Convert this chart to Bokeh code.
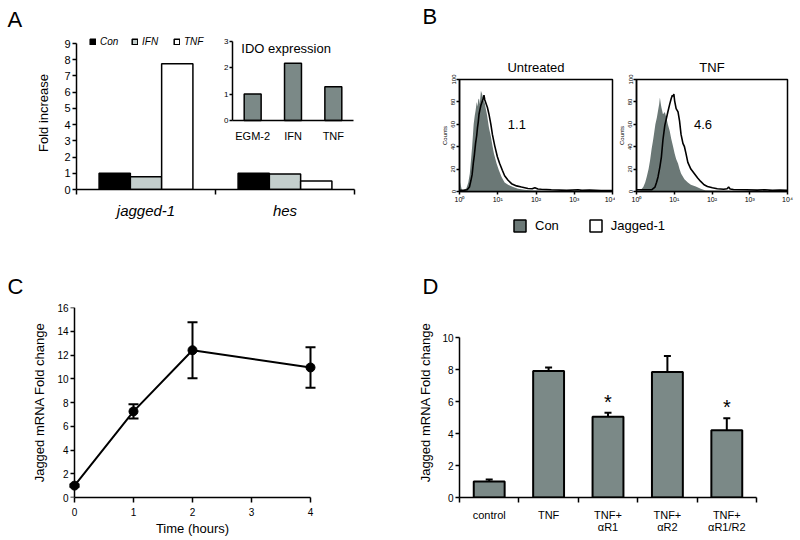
import numpy as np
from bokeh.plotting import figure
from bokeh.layouts import row, column
from bokeh.models import (Range1d, LinearAxis, FixedTicker, Legend, LegendItem, Label, Title,
                          ColumnDataSource, Whisker, TeeHead)
from bokeh.core.properties import value
from bokeh.embed import file_html
from bokeh.resources import INLINE

FONT = "Liberation Sans"

# ---------------- data ----------------
# Panel A
a_groups = ["jagged-1", "hes"]
a_series = ["Con", "IFN", "TNF"]
a_con = [1.0, 1.0]
a_ifn = [0.78, 0.95]
a_tnf = [7.75, 0.53]
a_yticks = [0, 1, 2, 3, 4, 5, 6, 7, 8, 9]
ido_labels = ["EGM-2", "IFN", "TNF"]
ido_values = [1.0, 2.17, 1.28]
ido_yticks = [0, 1, 2, 3]

# Panel B (log10 fluorescence, counts)
b_decades = [0, 1, 2, 3, 4]
b_decade_labels = ["10\u2070", "10\u00b9", "10\u00b2", "10\u00b3", "10\u2074"]
b_count_ticks = [0, 20, 40, 60, 80, 100]
b_titles = ["Untreated", "TNF"]
b_ratios = ["1.1", "4.6"]
b_legend = ["Con", "Jagged-1"]
unt_con_fl = [0.00, 0.03, 0.06, 0.10, 0.18, 0.23, 0.27, 0.30, 0.33, 0.37, 0.40, 0.42, 0.45, 0.47,
              0.49, 0.51, 0.53, 0.56, 0.59, 0.61, 0.63, 0.66, 0.68, 0.71, 0.73, 0.77, 0.82, 0.86,
              0.90, 0.97, 1.03, 1.10, 1.18, 1.27, 1.40, 1.53, 1.70, 1.90, 2.20, 2.60, 3.00, 3.50, 4.00]
unt_con_counts = [10, 6, 1.5, 1, 3, 8, 16, 28, 40, 60, 68, 72, 80, 76, 82, 83, 78, 90, 87, 84, 81,
                  79, 75, 70, 66, 57, 49, 41, 34, 25, 19, 13, 8, 6, 4, 2.4, 1.5, 1, 0.6, 0.5, 0.4,
                  0.3, 0.2]
unt_jag_fl = [0.00, 0.10, 0.20, 0.26, 0.30, 0.33, 0.36, 0.39, 0.42, 0.45, 0.47, 0.49, 0.51, 0.54,
              0.56, 0.58, 0.60, 0.62, 0.64, 0.66, 0.68, 0.70, 0.73, 0.77, 0.82, 0.86, 0.92, 0.99,
              1.05, 1.12, 1.18, 1.27, 1.36, 1.49, 1.62, 1.79, 1.90, 1.97, 2.05, 2.14, 2.40, 2.80,
              3.10, 3.20, 3.40, 3.70, 4.00]
unt_jag_counts = [1, 1, 1.5, 4, 10, 15, 25, 33, 43, 50, 57, 62, 69, 74, 77, 79, 81, 83, 86, 82, 80,
                  78, 75, 69, 60, 51, 41, 31, 25, 19, 14, 10, 7, 5, 4, 2.7, 2.5, 3.3, 2.2, 2, 1.5,
                  1, 1.5, 1, 1.2, 0.8, 0.8]
tnf_con_fl = [0.00, 0.10, 0.18, 0.23, 0.27, 0.32, 0.36, 0.40, 0.44, 0.47, 0.50, 0.54, 0.57, 0.60,
              0.62, 0.64, 0.66, 0.68, 0.70, 0.73, 0.75, 0.79, 0.83, 0.88, 0.92, 0.97, 1.01, 1.05,
              1.10, 1.14, 1.18, 1.27, 1.36, 1.44, 1.57, 1.70, 1.83, 2.00, 2.50, 3.00, 4.00]
tnf_con_counts = [0.5, 1, 4, 8, 13, 20, 28, 38, 46, 53, 60, 66, 72, 78, 84, 79, 75, 72, 69, 70, 71,
                  66, 60, 54, 47, 40, 34, 29, 25, 20, 16, 11, 8, 6, 4.5, 2.4, 1, 0.6, 0.4, 0.3, 0.2]
tnf_jag_fl = [0.00, 0.20, 0.40, 0.49, 0.53, 0.57, 0.62, 0.66, 0.70, 0.75, 0.79, 0.83, 0.88, 0.92,
              0.95, 0.97, 0.99, 1.01, 1.05, 1.10, 1.14, 1.18, 1.23, 1.27, 1.31, 1.36, 1.44, 1.53,
              1.62, 1.70, 1.79, 1.88, 2.01, 2.14, 2.31, 2.40, 2.44, 2.48, 2.57, 2.90, 3.20, 3.40,
              3.60, 3.80, 4.00]
tnf_jag_counts = [1.5, 1.5, 1.5, 4, 8, 13, 22, 31, 46, 59, 65, 71, 78, 83, 86, 85, 87, 81, 74, 71,
                  63, 51, 43, 40, 34, 26, 20, 16, 12, 9, 6, 4.5, 3.3, 2.4, 2, 2.5, 4, 2.2, 1.8, 1.5,
                  1.2, 1.6, 1, 1.3, 1]

# Panel C
c_time = [0, 1, 2, 4]
c_fold = [1.0, 7.25, 12.4, 10.95]
c_err = [0.1, 0.6, 2.35, 1.7]
c_xticks = [0, 1, 2, 3, 4]
c_yticks = [0, 2, 4, 6, 8, 10, 12, 14, 16]

# Panel D
d_labels = ["control", "TNF", "TNF+\n\u03b1R1", "TNF+\n\u03b1R2", "TNF+\n\u03b1R1/R2"]
d_fold = [1.0, 7.9, 5.05, 7.85, 4.2]
d_err = [0.12, 0.22, 0.25, 1.0, 0.75]
d_sig = [False, False, True, False, True]
d_yticks = [0, 2, 4, 6, 8, 10]

BLACK_BAR = "#000000"
IFN_GRAY = "#c3cecc"
BAR_GRAY = "#7b8987"
HIST_GRAY = "#6b7876"


def span(lo_px, hi_px, px_a, val_a, px_b, val_b):
    k = (val_b - val_a) / (px_b - px_a)
    return val_a + (lo_px - px_a) * k, val_a + (hi_px - px_a) * k


def base_fig(w, h, xr, yr, left, right, top, bottom):
    p = figure(width=w, height=h, x_range=xr, y_range=yr, output_backend="svg",
               toolbar_location=None, min_border_left=left, min_border_right=right,
               min_border_top=top, min_border_bottom=bottom)
    p.outline_line_color = None
    p.xgrid.visible = False
    p.ygrid.visible = False
    p.background_fill_color = "white"
    p.border_fill_color = "white"
    return p


def style_axis(ax, size="10px", tick_out=4, standoff=2):
    ax.axis_line_color = "black"
    ax.axis_line_width = 1.5
    ax.major_tick_line_color = "black"
    ax.major_tick_line_width = 1.5
    ax.major_tick_out = tick_out
    ax.major_tick_in = 0
    ax.minor_tick_line_color = None
    ax.major_label_text_font = FONT
    ax.major_label_text_font_size = size
    ax.major_label_text_color = "black"
    ax.major_label_standoff = standoff
    ax.axis_label_text_font = FONT
    ax.axis_label_text_font_style = "normal"
    ax.axis_label_text_color = "black"


def boundary_ticks(ax):
    ax.minor_tick_line_color = "black"
    ax.minor_tick_line_width = 1.5
    ax.minor_tick_out = 5
    ax.minor_tick_in = 0
    ax.major_tick_out = 0


def top_title(p, text, size, align, offset, standoff):
    p.add_layout(Title(text=text, align=align, offset=offset, standoff=standoff,
                       text_font=FONT, text_font_size=size, text_font_style="normal",
                       text_color="black"), "above")


def spacer(p, px):
    # a one-pixel white title that only reserves vertical room in the "above" panel
    p.add_layout(Title(text="x", standoff=max(px - 3, 0), text_font=FONT,
                       text_font_size="1px", text_color="white"), "above")


# ---------------- Panel A ----------------
pA = base_fig(400, 270, Range1d(0, len(a_groups)), Range1d(*span(189, 36, 189, 0, 43, 9)),
              76, 46, 36, 81)
gx = np.arange(len(a_groups)) + 0.5
bw = 0.225
a_colors = [BLACK_BAR, IFN_GRAY, "white"]
a_rend = []
for k, (vals, col) in enumerate(zip([a_con, a_ifn, a_tnf], a_colors)):
    r = pA.vbar(x=gx + (k - 1) * bw, top=vals, width=bw, bottom=0, fill_color=col,
                line_color="black", line_width=1.5)
    a_rend.append(r)

ya = pA.yaxis[0]
style_axis(ya, "11px", 4, 2)
ya.ticker = FixedTicker(ticks=a_yticks)
ya.bounds = (a_yticks[0], a_yticks[-1])
ya.axis_label = "Fold increase"
ya.axis_label_text_font_size = "13px"
ya.axis_label_standoff = 10

xa = pA.xaxis[0]
style_axis(xa, "15px", 0, 7)
xa.ticker = FixedTicker(ticks=list(gx), minor_ticks=list(range(len(a_groups) + 1)))
xa.major_label_overrides = {float(x): g for x, g in zip(gx, a_groups)}
xa.major_label_text_font_style = "italic"
boundary_ticks(xa)

legA = Legend(items=[LegendItem(label=s, renderers=[r]) for s, r in zip(a_series, a_rend)],
              orientation="horizontal", location=(13, 142), glyph_width=7, glyph_height=7,
              label_height=10, label_standoff=4, spacing=11, padding=0, margin=0,
              border_line_color=None, background_fill_alpha=0,
              label_text_font=FONT, label_text_font_size="10px",
              label_text_font_style="italic", label_text_color="black")
pA.add_layout(legA)

# inset: IDO expression
pA.extra_x_ranges = {"ido_x": Range1d(*span(76, 354, 232, 0, 353, len(ido_labels)))}
pA.extra_y_ranges = {"ido_y": Range1d(*span(189, 36, 120, 0, 40.7, ido_yticks[-1]))}
ix = np.arange(len(ido_labels)) + 0.5
pA.vbar(x=ix, top=ido_values, width=0.42, bottom=0, x_range_name="ido_x",
        y_range_name="ido_y", fill_color=BAR_GRAY, line_color="black", line_width=1.5)
iya = LinearAxis(x_range_name="ido_x", y_range_name="ido_y", fixed_location=0)
style_axis(iya, "8px", 3, 1)
iya.ticker = FixedTicker(ticks=ido_yticks)
iya.bounds = (ido_yticks[0], ido_yticks[-1])
pA.add_layout(iya, "left")
ixa = LinearAxis(x_range_name="ido_x", y_range_name="ido_y", fixed_location=0)
style_axis(ixa, "11px", 0, 9)
ixa.ticker = FixedTicker(ticks=list(ix), minor_ticks=[])
ixa.major_label_overrides = {float(x): g for x, g in zip(ix, ido_labels)}
ixa.bounds = (0, len(ido_labels))
pA.add_layout(ixa, "below")
pA.add_layout(Label(x=0.22, y=2.72, x_range_name="ido_x", y_range_name="ido_y",
                    text="IDO expression", text_font=FONT, text_font_size="13px",
                    text_baseline="middle", text_align="left", text_color="black"))
spacer(pA, 5)
top_title(pA, "A", "22px", "left", -69, 0)


# ---------------- Panel B ----------------
def hist_fig(w, left, right, con_x, con_y, jag_x, jag_y, ratio, ratio_x):
    p = base_fig(w, 207, Range1d(b_decades[0], b_decades[-1]),
                 Range1d(b_count_ticks[0], b_count_ticks[-1]), left, right, 79, 16)
    p.outline_line_color = "black"
    p.outline_line_width = 1.5
    p.varea(x=con_x, y1=0, y2=con_y, fill_color=HIST_GRAY)
    p.line(x=jag_x, y=jag_y, line_color="black", line_width=1.6)
    yb = p.yaxis[0]
    style_axis(yb, "6px", 3, 1)
    yb.ticker = FixedTicker(ticks=b_count_ticks)
    yb.major_label_orientation = "vertical"
    yb.axis_label = "Counts"
    yb.axis_label_text_font_size = "6px"
    yb.axis_label_standoff = 1
    xb = p.xaxis[0]
    style_axis(xb, "7px", 3, 1)
    xb.ticker = FixedTicker(ticks=b_decades)
    xb.major_label_overrides = {d: l for d, l in zip(b_decades, b_decade_labels)}
    p.add_layout(Label(x=ratio_x, y=60, text=ratio, text_font=FONT, text_font_size="13px",
                       text_align="center", text_baseline="middle", text_color="black"))
    return p


pB1 = hist_fig(215, 59, 3, unt_con_fl, unt_con_counts, unt_jag_fl, unt_jag_counts,
               b_ratios[0], 1.5)
pB2 = hist_fig(185, 18, 13, tnf_con_fl, tnf_con_counts, tnf_jag_fl, tnf_jag_counts,
               b_ratios[1], 1.76)
top_title(pB1, b_titles[0], "13px", "center", 0, 10)
spacer(pB1, 24)
top_title(pB1, "B", "22px", "left", -37, 0)
top_title(pB2, b_titles[1], "13px", "center", -8, 10)

pL = figure(width=400, height=63, x_range=Range1d(0, 1), y_range=Range1d(0, 1),
            output_backend="svg", toolbar_location=None, min_border=0,
            x_axis_location=None, y_axis_location=None)
pL.outline_line_color = None
pL.xgrid.visible = False
pL.ygrid.visible = False
key_src = ColumnDataSource(dict(x=[0.5], top=[np.nan]))
rl1 = pL.vbar(x="x", top="top", width=0.1, source=key_src, fill_color=HIST_GRAY,
              line_color="black", line_width=1.5)
rl2 = pL.vbar(x="x", top="top", width=0.1, source=key_src, fill_color="white",
              line_color="black", line_width=1.5)
legB = Legend(items=[LegendItem(label=b_legend[0], renderers=[rl1]),
                     LegendItem(label=b_legend[1], renderers=[rl2])],
              orientation="horizontal", location=(112, 37), glyph_width=15, glyph_height=15,
              label_height=15, label_standoff=8, spacing=29, padding=0, margin=0,
              border_line_color=None, background_fill_alpha=0,
              label_text_font=FONT, label_text_font_size="13px", label_text_color="black")
pL.add_layout(legB)

# ---------------- Panel C ----------------
pC = base_fig(400, 270, Range1d(*span(68, 316, 74, c_xticks[0], 310, c_xticks[-1])),
              Range1d(c_yticks[0], c_yticks[-1]), 68, 84, 37, 43)
pC.line(c_time, c_fold, line_color="black", line_width=2)
pC.scatter(c_time, c_fold, size=9, fill_color="black", line_color="black")
c_src = ColumnDataSource(dict(t=c_time, lo=[v - e for v, e in zip(c_fold, c_err)],
                              hi=[v + e for v, e in zip(c_fold, c_err)]))
pC.add_layout(Whisker(source=c_src, base="t", lower="lo", upper="hi", line_width=2,
                      line_color="black",
                      upper_head=TeeHead(size=10, line_width=2, line_color="black"),
                      lower_head=TeeHead(size=10, line_width=2, line_color="black")))
# labels of the y axis (at the frame edge), line and ticks at x = 0
yc = pC.yaxis[0]
style_axis(yc, "10px", 0, 0)
yc.ticker = FixedTicker(ticks=c_yticks)
yc.axis_line_color = None
yc.major_tick_line_color = None
yc.axis_label = "Jagged mRNA Fold change"
yc.axis_label_text_font_size = "13px"
yc.axis_label_standoff = 7
yc2 = LinearAxis(fixed_location=c_xticks[0])
style_axis(yc2, "10px", 4, 2)
yc2.ticker = FixedTicker(ticks=c_yticks)
yc2.major_label_text_color = None
pC.add_layout(yc2, "left")
xc = pC.xaxis[0]
style_axis(xc, "10px", 5, 5)
xc.ticker = FixedTicker(ticks=c_xticks)
xc.bounds = (c_xticks[0], c_xticks[-1])
xc.axis_label = "Time (hours)"
xc.axis_label_text_font_size = "13px"
xc.axis_label_standoff = 2
spacer(pC, 9)
top_title(pC, "C", "22px", "left", -61, 0)

# ---------------- Panel D ----------------
pD = base_fig(400, 270, Range1d(0, len(d_labels)),
              Range1d(*span(497, 307, 497, d_yticks[0], 337, d_yticks[-1])),
              59, 44, 37, 43)
dx = np.arange(len(d_labels)) + 0.5
d_up = [v + e for v, e in zip(d_fold, d_err)]
pD.vbar(x=dx, top=d_fold, width=0.52, bottom=0, fill_color=BAR_GRAY, line_color="black",
        line_width=2)
d_src = ColumnDataSource(dict(x=dx, lo=d_fold, hi=d_up))
pD.add_layout(Whisker(source=d_src, base="x", lower="lo", upper="hi", line_width=2,
                      line_color="black",
                      upper_head=TeeHead(size=7, line_width=2, line_color="black"),
                      lower_head=None))
s_src = ColumnDataSource(dict(x=[x for x, s in zip(dx, d_sig) if s],
                              y=[u for u, s in zip(d_up, d_sig) if s],
                              t=["*" for s in d_sig if s]))
pD.text(x="x", y="y", text="t", source=s_src, text_font=value(FONT), text_font_size="20px",
        text_align="center", text_baseline="bottom", text_color="black")
yd = pD.yaxis[0]
style_axis(yd, "10px", 4, 2)
yd.ticker = FixedTicker(ticks=d_yticks)
yd.bounds = (d_yticks[0], d_yticks[-1])
yd.axis_label = "Jagged mRNA Fold change"
yd.axis_label_text_font_size = "13px"
yd.axis_label_standoff = 6
xd = pD.xaxis[0]
style_axis(xd, "11px", 0, 6)
xd.ticker = FixedTicker(ticks=list(dx), minor_ticks=list(range(len(d_labels) + 1)))
xd.major_label_overrides = {float(x): l for x, l in zip(dx, d_labels)}
xd.major_label_text_line_height = 1.0
boundary_ticks(xd)
spacer(pD, 9)
top_title(pD, "D", "22px", "left", -37, 0)

layout = column(row(pA, column(row(pB1, pB2), pL)), row(pC, pD))
open("out.html", "w").write(file_html(layout, INLINE))
